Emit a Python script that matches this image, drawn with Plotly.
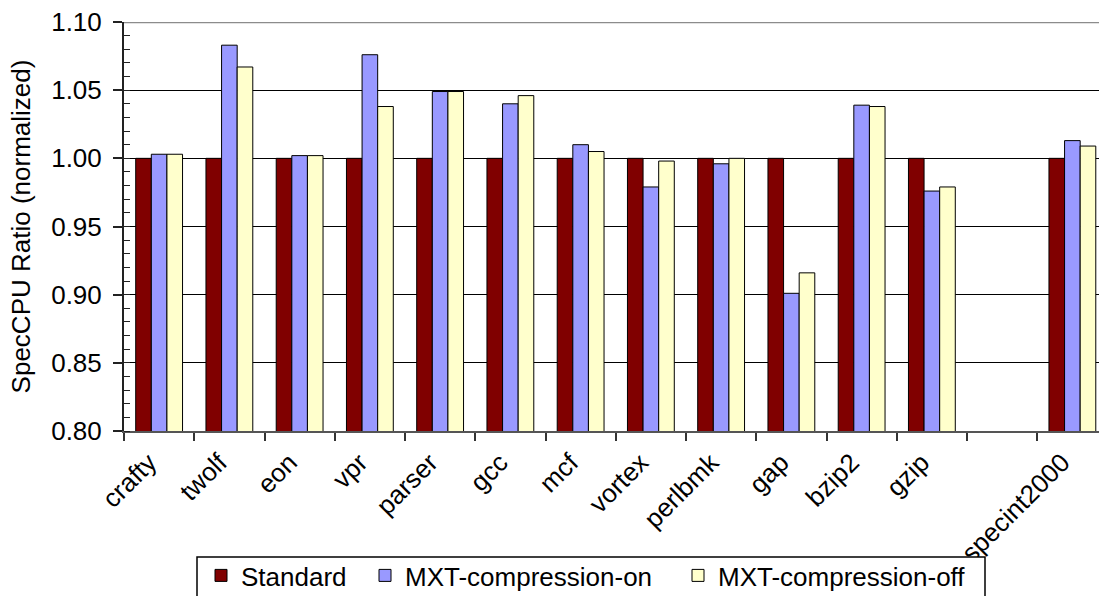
import plotly.graph_objects as go

# Benchmarks (one empty slot separates the individual tests from the aggregate)
categories = ["crafty", "twolf", "eon", "vpr", "parser", "gcc", "mcf", "vortex",
              "perlbmk", "gap", "bzip2", "gzip", " ", "specint2000"]

standard = [1.000, 1.000, 1.000, 1.000, 1.000, 1.000, 1.000, 1.000,
            1.000, 1.000, 1.000, 1.000, None, 1.000]
compression_on = [1.003, 1.083, 1.002, 1.076, 1.049, 1.040, 1.010, 0.979,
                  0.996, 0.901, 1.039, 0.976, None, 1.013]
compression_off = [1.003, 1.067, 1.002, 1.038, 1.049, 1.046, 1.005, 0.998,
                   1.000, 0.916, 1.038, 0.979, None, 1.009]

series_names = ["Standard", "MXT-compression-on", "MXT-compression-off"]
series_values = [standard, compression_on, compression_off]
series_colors = ["#800000", "#9999FF", "#FFFFCC"]

FONT = "Liberation Sans, Arial, sans-serif"

# Pixel geometry of the plot area
W, H = 1099, 596
ML, MR, MT, MB = 124, 0, 22, 165
PW, PH = W - ML - MR, H - MT - MB
CAT_PX = 70.25  # width of one category slot


def px_x(px):
    return (px - ML) / PW


def px_y(py):
    return (H - MB - py) / PH


legend_ids = ["legend", "legend2", "legend3"]
legend_left_px = [201, 365, 678]

fig = go.Figure()
for name, vals, color, lid in zip(series_names, series_values, series_colors, legend_ids):
    fig.add_trace(go.Bar(
        x=categories, y=vals, name=name, legend=lid,
        marker=dict(color=color, line=dict(color="black", width=1)),
    ))

legend_common = dict(
    orientation="h", yanchor="top", xanchor="left", y=px_y(552),
    bgcolor="rgba(0,0,0,0)", borderwidth=0,
    font=dict(family=FONT, size=26, color="black"),
)

fig.update_layout(
    width=W, height=H,
    margin=dict(l=ML, r=MR, t=MT, b=MB, autoexpand=False),
    paper_bgcolor="white", plot_bgcolor="white",
    barmode="group", bargap=1.5 / 4.5, bargroupgap=0,
    font=dict(family=FONT, size=26, color="black"),
    showlegend=True,
    legend=dict(x=px_x(legend_left_px[0]), **legend_common),
    legend2=dict(x=px_x(legend_left_px[1]), **legend_common),
    legend3=dict(x=px_x(legend_left_px[2]), **legend_common),
)

fig.update_xaxes(
    type="category", categoryorder="array", categoryarray=categories,
    range=[-0.5, 13.5 - (ML + len(categories) * CAT_PX - W) / CAT_PX],
    tickson="boundaries", ticks="outside", ticklen=8, tickwidth=1.5,
    tickcolor="#333333", tickangle=-45,
    ticklabelshift=-10, ticklabelstandoff=4,
    showline=True, linecolor="#555555", linewidth=2,
    showgrid=False, zeroline=False,
    tickfont=dict(family=FONT, size=26, color="black"),
)

fig.update_yaxes(
    range=[0.80, 1.10], dtick=0.05, tick0=0.80, tickformat=".2f",
    ticks="outside", ticklen=9, tickwidth=1.5, tickcolor="#222222",
    ticklabelstandoff=6,
    minor=dict(dtick=0.01, ticks="inside", ticklen=6, tickwidth=1.2,
               tickcolor="#222222", showgrid=False),
    showline=True, linecolor="#222222", linewidth=2,
    showgrid=True, gridcolor="black", gridwidth=1, zeroline=False,
    tickfont=dict(family=FONT, size=26, color="black"),
    title=dict(text="SpecCPU Ratio (normalized)", standoff=13,
               font=dict(family=FONT, size=26, color="black")),
)

# Grey plot-area border along the top edge
fig.add_shape(type="line", xref="paper", yref="y", x0=0, x1=1, y0=1.10, y1=1.10,
              line=dict(color="#8c8c8c", width=2.5), layer="above")

# Frame behind the legend entries
fig.add_shape(type="rect", xref="paper", yref="paper",
              x0=px_x(197), x1=px_x(985), y0=px_y(557), y1=px_y(620),
              fillcolor="white", line=dict(color="black", width=1.5), layer="above")

fig.write_html("out.html")
